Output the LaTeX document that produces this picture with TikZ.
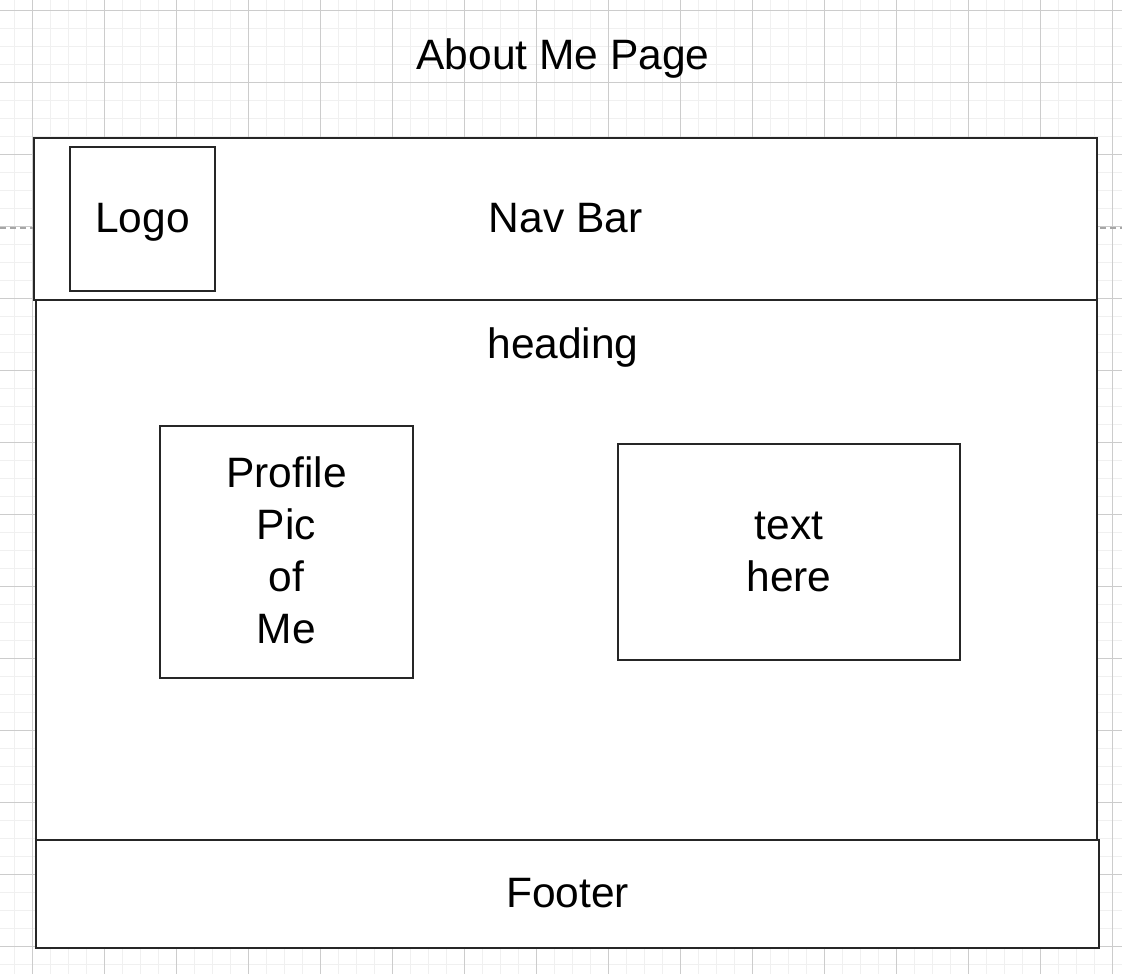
\documentclass[tikz,border=0pt]{standalone}
\usepackage{fontspec}
\setmainfont{Liberation Sans}
\begin{document}
\begin{tikzpicture}[x=1pt,y=-1pt,
  box/.style={draw=black!85, line width=1.6pt, fill=white, inner sep=0pt},
  lbl/.style={font=\fontsize{42.5}{52}\selectfont, inner sep=0pt, text height=36pt, text depth=10pt},
  mlbl/.style={font=\fontsize{42.5}{52}\selectfont, align=center, inner sep=0pt}]
  \useasboundingbox (0,0) rectangle (1122,974);
  % canvas grid
  \fill[white] (0,0) rectangle (1122,974);
  \foreach \x in {0,...,62} \draw[black!6, line width=1pt] (14.3+18*\x,0) -- (14.3+18*\x,974);
  \foreach \y in {0,...,54} \draw[black!6, line width=1pt] (0,10.7+18*\y) -- (1122,10.7+18*\y);
  \foreach \x in {0,...,15} \draw[black!20, line width=1pt] (32.3+72*\x,0) -- (32.3+72*\x,974);
  \foreach \y in {0,...,13} \draw[black!20, line width=1pt] (0,10.7+72*\y) -- (1122,10.7+72*\y);
  % guide
  \coordinate (gl) at (0,228);
  \coordinate (gr) at (1122,228);
  \draw[black!35, line width=1.2pt, dash pattern=on 6pt off 4pt] (gl) -- (gr);
  % page title
  \node[lbl] (title) at (563,57) {About Me Page};
  % page layout
  \node[box, minimum width=1063pt, minimum height=162pt, lbl] (nav) at (565.5,219) {Nav Bar};
  \node[box, minimum width=145pt, minimum height=144pt, lbl] (logo) at (142.5,219) {Logo};
  \node[box, minimum width=1061pt, minimum height=540pt] (main) at (566.5,570) {};
  \node[lbl] (heading) at (563,345) {heading};
  \node[box, minimum width=253pt, minimum height=252pt] (pic) at (286.5,552) {};
  \node[mlbl] (piclbl) at (286.5,550.5) {Profile\\Pic\\of\\Me};
  \node[box, minimum width=342pt, minimum height=216pt, mlbl] (txt) at (789,552) {text\\here};
  \node[box, minimum width=1063pt, minimum height=108pt, lbl] (footer) at (567.5,894) {Footer};
\end{tikzpicture}
\end{document}
